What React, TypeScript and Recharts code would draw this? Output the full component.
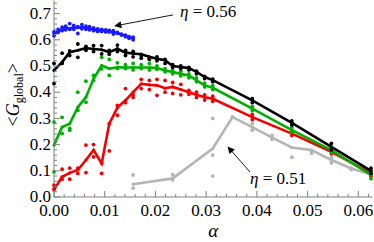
import React from 'react';
import { ComposedChart, Line, Scatter, XAxis, YAxis, ReferenceLine, ReferenceDot } from 'recharts';

// alpha grid shared by the black, green and red runs
const alphaGrid = [0, 0.0016, 0.0031, 0.0047, 0.0063, 0.0078, 0.0094, 0.0109, 0.0125, 0.0141, 0.0156, 0.0172, 0.0188, 0.0203, 0.0219, 0.0234, 0.025, 0.0266, 0.0281, 0.0297, 0.0313, 0.0391, 0.0469, 0.0547, 0.0625];

const blackMean = [0.483, 0.515, 0.553, 0.56, 0.568, 0.565, 0.562, 0.553, 0.566, 0.551, 0.548, 0.545, 0.535, 0.528, 0.522, 0.5, 0.496, 0.492, 0.478, 0.458, 0.446, 0.369, 0.283, 0.191, 0.1];
const blackHi = [0.51, 0.549, 0.558, 0.584, 0.575, 0.578, 0.578, 0.56, 0.58, 0.56, 0.556, 0.54, 0.53, 0.535, 0.525, 0.505, 0.5, 0.495, 0.48, 0.46, 0.45, 0.375, 0.29, 0.205, 0.11];
const blackLo = [0.433, 0.51, 0.54, 0.533, 0.56, 0.555, 0.546, 0.545, 0.555, 0.54, 0.535, 0.53, 0.525, 0.52, 0.51, 0.495, 0.49, 0.485, 0.47, 0.452, 0.44, 0.36, 0.275, 0.18, 0.09];

const greenMean = [0.198, 0.267, 0.28, 0.343, 0.381, 0.451, 0.502, 0.49, 0.495, 0.494, 0.494, 0.494, 0.494, 0.492, 0.483, 0.477, 0.47, 0.464, 0.445, 0.426, 0.417, 0.337, 0.255, 0.179, 0.084];
const greenHi = [0.286, 0.304, 0.262, 0.4, 0.442, 0.464, 0.533, 0.525, 0.512, 0.505, 0.51, 0.505, 0.51, 0.5, 0.49, 0.485, 0.48, 0.47, 0.455, 0.435, 0.425, 0.345, 0.265, 0.19, 0.095];
const greenLo = [0.096, 0.242, 0.255, 0.331, 0.362, 0.445, 0.489, 0.464, 0.49, 0.49, 0.485, 0.49, 0.485, 0.488, 0.478, 0.47, 0.462, 0.455, 0.44, 0.42, 0.41, 0.33, 0.248, 0.17, 0.07];

const redMean = [0.027, 0.077, 0.092, 0.103, 0.141, 0.179, 0.128, 0.28, 0.341, 0.369, 0.4, 0.432, 0.428, 0.426, 0.415, 0.42, 0.41, 0.4, 0.39, 0.381, 0.375, 0.305, 0.242, 0.172, 0.09];
const redHi = [0.045, 0.106, 0.11, 0.11, 0.198, 0.2, 0.13, 0.28, 0.35, 0.414, 0.39, 0.449, 0.445, 0.449, 0.445, 0.437, 0.43, 0.407, 0.4, 0.39, 0.385, 0.315, 0.25, 0.18, 0.1];
const redLo = [0.031, 0.068, 0.068, 0.09, 0.093, 0.153, 0.09, 0.176, 0.312, 0.36, 0.38, 0.414, 0.41, 0.388, 0.4, 0.395, 0.39, 0.392, 0.38, 0.37, 0.365, 0.295, 0.235, 0.165, 0.08];

// eta = 0.56, finer alpha grid
const alphaFine = [0, 0.0008, 0.0016, 0.0023, 0.0031, 0.0039, 0.0047, 0.0055, 0.0063, 0.007, 0.0078, 0.0086, 0.0094, 0.0102, 0.0109, 0.0117, 0.0125, 0.0133, 0.0141, 0.0148, 0.0156];
const blueMean = [0.624, 0.632, 0.64, 0.645, 0.643, 0.648, 0.646, 0.648, 0.645, 0.642, 0.64, 0.637, 0.637, 0.635, 0.633, 0.629, 0.627, 0.62, 0.615, 0.61, 0.606];
const blueHi = [0.63, 0.64, 0.648, 0.652, 0.662, 0.655, 0.65, 0.658, 0.652, 0.65, 0.645, 0.642, 0.64, 0.638, 0.636, 0.635, 0.628, 0.622, 0.618, 0.612, 0.61];
const blueLo = [0.615, 0.628, 0.635, 0.638, 0.64, 0.64, 0.624, 0.642, 0.64, 0.638, 0.635, 0.632, 0.632, 0.63, 0.63, 0.622, 0.625, 0.618, 0.612, 0.606, 0.6];

// eta = 0.51
const alphaGray = [0.0156, 0.0234, 0.0313, 0.0352, 0.0391, 0.043, 0.0469, 0.0508, 0.0547, 0.0586, 0.0625];
const grayMean = [0.049, 0.071, 0.185, 0.305, 0.267, 0.227, 0.189, 0.179, 0.141, 0.109, 0.087];
const grayHi = [0.084, 0.085, 0.3, 0.305, 0.28, 0.235, 0.248, 0.175, 0.15, 0.11, 0.09];
const grayLo = [0.034, 0.065, 0.16, 0.305, 0.255, 0.22, 0.152, 0.167, 0.13, 0.105, 0.08];
const grayExtraA = [0.0313];
const grayExtraG = [0.08];

const xMajor = [0, 0.01, 0.02, 0.03, 0.04, 0.05, 0.06];
const yMajor = [0, 0.1, 0.2, 0.3, 0.4, 0.5, 0.6, 0.7];

const X_MAX = 0.0628;
const Y_MAX = 0.75;
const FONT = 'Liberation Serif';
const FRAME = '#808080';

const pts = (a: number[], g: number[]) => a.map((x, i) => ({ a: x, g: g[i] }));

const xTicks: number[] = [];
for (let i = 0; i * 0.002 <= X_MAX; i++) xTicks.push(Number((i * 0.002).toFixed(3)));
const yTicks: number[] = [];
for (let i = 0; i * 0.02 <= Y_MAX + 1e-9; i++) yTicks.push(Number((i * 0.02).toFixed(2)));

const isMajor = (v: number, list: number[]) => list.some((m) => Math.abs(m - v) < 1e-6);

const BottomTick = (p: any) => {
  const v = p.payload.value;
  const major = isMajor(v, xMajor);
  return (
    <g>
      <line x1={p.x} x2={p.x} y1={p.y} y2={p.y - (major ? 6 : 3)} stroke={FRAME} strokeWidth={1} />
      {major && (
        <text x={p.x} y={p.y + 19} textAnchor="middle" fontFamily={FONT} fontSize={17} fill="#000">
          {v.toFixed(2)}
        </text>
      )}
    </g>
  );
};

const TopTick = (p: any) => {
  const major = isMajor(p.payload.value, xMajor);
  return <line x1={p.x} x2={p.x} y1={p.y} y2={p.y + (major ? 6 : 3)} stroke={FRAME} strokeWidth={1} />;
};

const LeftTick = (p: any) => {
  const v = p.payload.value;
  const major = isMajor(v, yMajor);
  return (
    <g>
      <line x1={p.x} x2={p.x + (major ? 6 : 3)} y1={p.y} y2={p.y} stroke={FRAME} strokeWidth={1} />
      {major && (
        <text x={p.x - 3} y={p.y} dy="0.3em" textAnchor="end" fontFamily={FONT} fontSize={17} fill="#000">
          {v.toFixed(1)}
        </text>
      )}
    </g>
  );
};

const RightTick = (p: any) => {
  const major = isMajor(p.payload.value, yMajor);
  return <line x1={p.x} x2={p.x - (major ? 6 : 3)} y1={p.y} y2={p.y} stroke={FRAME} strokeWidth={1} />;
};

const YLabel = (props: any) => {
  const vb = props.viewBox || { x: 0, y: 0, width: 54, height: 196 };
  const cx = vb.x + 19;
  const cy = vb.y + vb.height / 2 - 4;
  return (
    <text x={cx} y={cy} transform={`rotate(-90, ${cx}, ${cy})`} textAnchor="middle" fontFamily={FONT} fontSize={18} fill="#000">
      {'<'}
      <tspan fontStyle="italic">G</tspan>
      <tspan fontSize={12} dy={4}>global</tspan>
      <tspan dy={-4}>{'>'}</tspan>
    </text>
  );
};

const XLabel = (props: any) => {
  const vb = props.viewBox || { x: 54, y: 197, width: 318, height: 45 };
  return (
    <text x={vb.x + vb.width / 2} y={vb.y + 40} textAnchor="middle" fontFamily={FONT} fontSize={19} fontStyle="italic" fill="#000">
      α
    </text>
  );
};

const etaText = (label: string, withDefs: boolean) => (p: any) => (
  <g>
    {withDefs && (
      <defs>
        <marker id="arrowHead" viewBox="0 0 10 10" refX="9" refY="5" markerWidth="9" markerHeight="7" orient="auto" markerUnits="userSpaceOnUse">
          <path d="M0,0 L10,5 L0,10 z" fill="#000" />
        </marker>
      </defs>
    )}
    <text x={p.cx} y={p.cy} fontFamily={FONT} fontSize={17} fill="#000">
      <tspan fontStyle="italic">η</tspan>
      {' = ' + label}
    </text>
  </g>
);

const dotShape = (color: string) => (p: any) => <circle cx={p.cx} cy={p.cy} r={1.9} fill={color} />;

const series = [
  { name: 'gray', color: '#b5b5b5', a: alphaGray, mean: grayMean, hi: grayHi, lo: grayLo },
  { name: 'red', color: '#f50000', a: alphaGrid, mean: redMean, hi: redHi, lo: redLo },
  { name: 'green', color: '#00b000', a: alphaGrid, mean: greenMean, hi: greenHi, lo: greenLo },
  { name: 'black', color: '#000000', a: alphaGrid, mean: blackMean, hi: blackHi, lo: blackLo },
  { name: 'blue', color: '#1a1aff', a: alphaFine, mean: blueMean, hi: blueHi, lo: blueLo },
];

export default function App() {
  return (
    <div style={{ position: 'absolute', left: 0, top: 0, background: '#fff', fontFamily: FONT }}>
      <ComposedChart width={374} height={242} margin={{ top: 0.5, right: 1.5, bottom: 0, left: 0 }}>
        <XAxis
          xAxisId={0}
          dataKey="a"
          type="number"
          domain={[0, X_MAX]}
          ticks={xTicks}
          interval={0}
          height={45}
          tickSize={0}
          tickMargin={0}
          tickLine={false}
          tick={<BottomTick />}
          axisLine={{ stroke: FRAME }}
          label={<XLabel />}
        />
        <XAxis
          xAxisId="top"
          orientation="top"
          dataKey="a"
          type="number"
          domain={[0, X_MAX]}
          ticks={xTicks}
          interval={0}
          height={0}
          tickSize={0}
          tickMargin={0}
          tickLine={false}
          tick={<TopTick />}
          axisLine={{ stroke: FRAME }}
        />
        <YAxis
          yAxisId={0}
          dataKey="g"
          type="number"
          domain={[0, Y_MAX]}
          ticks={yTicks}
          interval={0}
          width={54}
          tickSize={0}
          tickMargin={0}
          tickLine={false}
          tick={<LeftTick />}
          axisLine={{ stroke: FRAME }}
          label={<YLabel />}
        />
        <YAxis
          yAxisId="right"
          orientation="right"
          dataKey="g"
          type="number"
          domain={[0, Y_MAX]}
          ticks={yTicks}
          interval={0}
          width={0}
          tickSize={0}
          tickMargin={0}
          tickLine={false}
          tick={<RightTick />}
          axisLine={{ stroke: FRAME }}
        />

        {series.map((s) => [
          <Scatter
            key={s.name + '-dots'}
            data={[...pts(s.a, s.hi), ...pts(s.a, s.lo), ...(s.name === 'gray' ? pts(grayExtraA, grayExtraG) : [])]}
            dataKey="g"
            fill={s.color}
            shape={dotShape(s.color)}
            isAnimationActive={false}
          />,
          <Line
            key={s.name + '-mean'}
            data={pts(s.a, s.mean)}
            dataKey="g"
            type="linear"
            stroke={s.color}
            strokeWidth={2.6}
            dot={{ r: 1.6, fill: s.color, stroke: 'none' }}
            activeDot={false}
            isAnimationActive={false}
          />,
        ])}

        <ReferenceLine
          segment={[{ x: 0.02346, y: 0.695 }, { x: 0.01203, y: 0.653 }]}
          stroke="#000"
          strokeWidth={0.9}
          markerEnd="url(#arrowHead)"
        />
        <ReferenceLine
          segment={[{ x: 0.03864, y: 0.0954 }, { x: 0.03431, y: 0.191 }]}
          stroke="#000"
          strokeWidth={0.9}
          markerEnd="url(#arrowHead)"
        />
        <ReferenceDot x={0.02484} y={0.687} r={0} shape={etaText('0.56', true)} />
        <ReferenceDot x={0.03864} y={0.0496} r={0} shape={etaText('0.51', false)} />
      </ComposedChart>
    </div>
  );
}
